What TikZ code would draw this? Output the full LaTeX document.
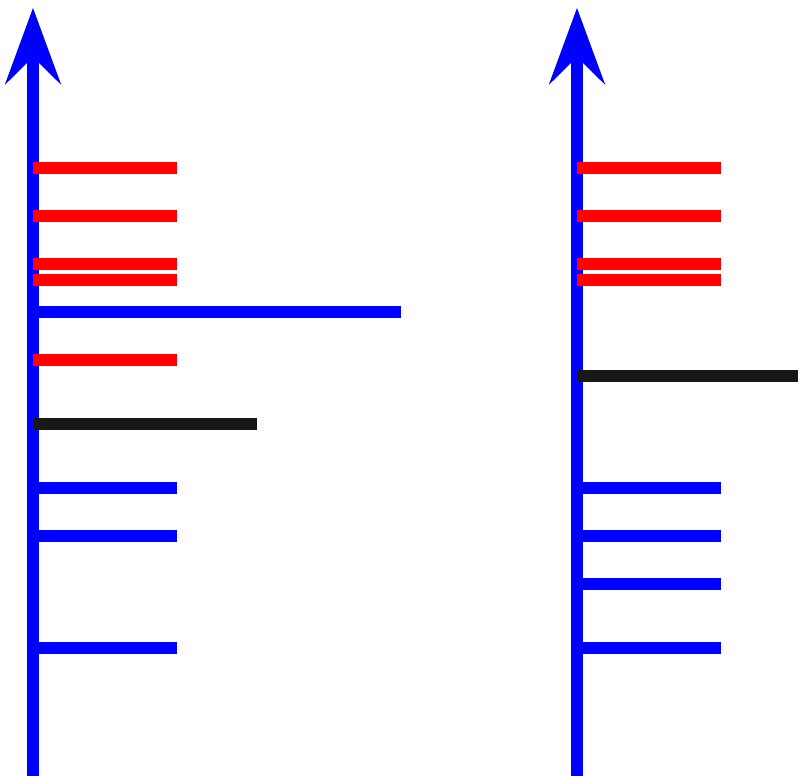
\documentclass[tikz,border=0pt]{standalone}
\definecolor{barblack}{RGB}{23,23,23}
\begin{document}
\begin{tikzpicture}[x=1pt,y=-1pt,
  axisline/.style={draw=blue,line width=12pt},
  axishead/.style={fill=blue},
  bar/.style={line width=11.7pt,line cap=butt}]
\useasboundingbox (0,0) rectangle (798,776);
% axes
\foreach \ax in {33,577}{
  \coordinate (base\ax) at (\ax,776);
  \coordinate (top\ax) at (\ax,40);
  \draw[axisline] (base\ax) -- (top\ax);
  \fill[axishead] (\ax,8) -- (\ax+28.3,85) -- (\ax,57) -- (\ax-28.3,85) -- cycle;
}
% left bars
\foreach \y in {168,216,264,280,360}
  \draw[bar,red] (33,\y) -- (177,\y);
\draw[bar,blue] (33,312) -- (401,312);
\draw[bar,barblack] (33,424) -- (257,424);
\foreach \y in {488,536,648}
  \draw[bar,blue] (33,\y) -- (177,\y);
% right bars
\foreach \y in {168,216,264,280}
  \draw[bar,red] (577,\y) -- (721,\y);
\draw[bar,barblack] (577,376) -- (801,376);
\foreach \y in {488,536,584,648}
  \draw[bar,blue] (577,\y) -- (721,\y);
\end{tikzpicture}
\end{document}
